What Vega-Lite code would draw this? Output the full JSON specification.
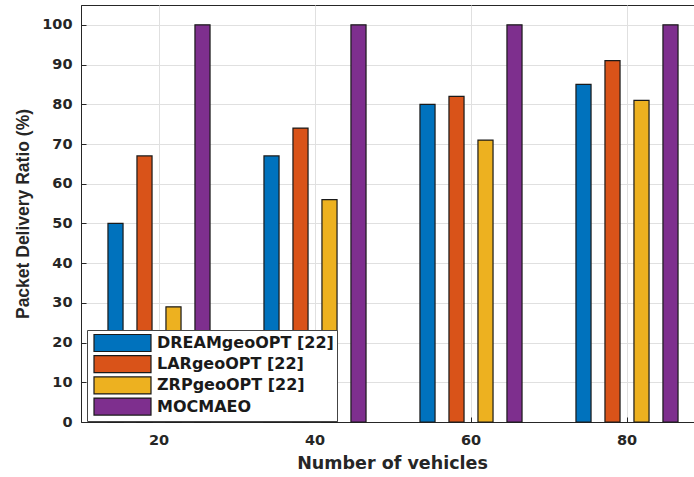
{
  "$schema": "https://vega.github.io/schema/vega-lite/v6.json",
  "width": 613,
  "height": 417,
  "autosize": {"type": "none"},
  "padding": {"left": 81, "top": 5, "right": 0, "bottom": 55},
  "background": "white",
  "config": {
    "font": "DejaVu Sans",
    "view": {"stroke": "#262626", "strokeWidth": 1}
  },
  "data": {
    "values": [
      {"vehicles": 20, "method": "DREAMgeoOPT [22]", "pdr": 50},
      {"vehicles": 20, "method": "LARgeoOPT [22]", "pdr": 67},
      {"vehicles": 20, "method": "ZRPgeoOPT [22]", "pdr": 29},
      {"vehicles": 20, "method": "MOCMAEO", "pdr": 100},
      {"vehicles": 40, "method": "DREAMgeoOPT [22]", "pdr": 67},
      {"vehicles": 40, "method": "LARgeoOPT [22]", "pdr": 74},
      {"vehicles": 40, "method": "ZRPgeoOPT [22]", "pdr": 56},
      {"vehicles": 40, "method": "MOCMAEO", "pdr": 100},
      {"vehicles": 60, "method": "DREAMgeoOPT [22]", "pdr": 80},
      {"vehicles": 60, "method": "LARgeoOPT [22]", "pdr": 82},
      {"vehicles": 60, "method": "ZRPgeoOPT [22]", "pdr": 71},
      {"vehicles": 60, "method": "MOCMAEO", "pdr": 100},
      {"vehicles": 80, "method": "DREAMgeoOPT [22]", "pdr": 85},
      {"vehicles": 80, "method": "LARgeoOPT [22]", "pdr": 91},
      {"vehicles": 80, "method": "ZRPgeoOPT [22]", "pdr": 81},
      {"vehicles": 80, "method": "MOCMAEO", "pdr": 100}
    ]
  },
  "mark": {"type": "bar", "stroke": "#1a1a1a", "strokeWidth": 1.2, "opacity": 1},
  "encoding": {
    "x": {
      "field": "vehicles",
      "type": "ordinal",
      "scale": {"range": [0, 624], "paddingInner": 0, "paddingOuter": 0},
      "axis": {
        "title": "Number of vehicles",
        "titleFontSize": 17.5,
        "titleFontWeight": "bold",
        "titleColor": "#262626",
        "titlePadding": 8,
        "titleX": 311,
        "labelAngle": 0,
        "labelFontSize": 14.5,
        "labelFontWeight": "bold",
        "labelColor": "#262626",
        "labelPadding": 16,
        "domainColor": "#262626",
        "tickColor": "#262626",
        "tickSize": -5,
        "grid": true,
        "gridColor": "#e0e0e0",
        "bandPosition": 0.5
      }
    },
    "xOffset": {
      "field": "method",
      "type": "nominal",
      "sort": ["DREAMgeoOPT [22]", "LARgeoOPT [22]", "ZRPgeoOPT [22]", "MOCMAEO"],
      "scale": {"paddingInner": 0.48, "paddingOuter": 0.93}
    },
    "y": {
      "field": "pdr",
      "type": "quantitative",
      "scale": {"domain": [0, 105], "nice": false},
      "axis": {
        "title": "Packet Delivery Ratio (%)",
        "titleFont": "Liberation Sans",
        "titleFontSize": 17.5,
        "titleFontWeight": "bold",
        "titleColor": "#262626",
        "titlePadding": 9,
        "values": [0, 10, 20, 30, 40, 50, 60, 70, 80, 90, 100],
        "labelFontSize": 14.5,
        "labelFontWeight": "bold",
        "labelColor": "#262626",
        "labelPadding": 14,
        "domainColor": "#262626",
        "tickColor": "#262626",
        "tickSize": -5,
        "grid": true,
        "gridColor": "#e0e0e0"
      }
    },
    "color": {
      "field": "method",
      "type": "nominal",
      "sort": ["DREAMgeoOPT [22]", "LARgeoOPT [22]", "ZRPgeoOPT [22]", "MOCMAEO"],
      "scale": {
        "domain": ["DREAMgeoOPT [22]", "LARgeoOPT [22]", "ZRPgeoOPT [22]", "MOCMAEO"],
        "range": ["#0072BD", "#D95319", "#EDB120", "#7E2F8E"]
      },
      "legend": {
        "title": null,
        "orient": "none",
        "legendX": 6,
        "legendY": 325,
        "fillColor": "white",
        "strokeColor": "#444444",
        "padding": 3,
        "symbolType": "M-0.667,-0.944H5.667V0.944H-0.667Z",
        "symbolSize": 324,
        "symbolStrokeColor": "#1a1a1a",
        "symbolStrokeWidth": 1.2,
        "symbolOpacity": 1,
        "labelFontSize": 16,
        "labelFontWeight": "bold",
        "labelColor": "#1a1a1a",
        "labelOffset": 47,
        "labelLimit": 300,
        "rowPadding": -0.8
      }
    }
  }
}
